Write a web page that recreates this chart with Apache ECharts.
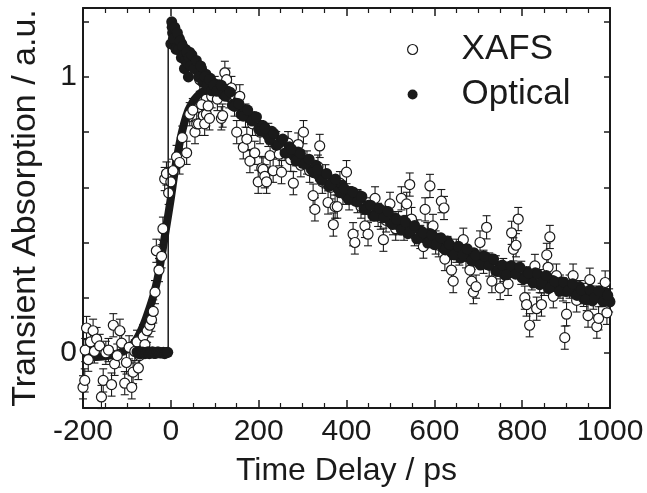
<!DOCTYPE html>
<html>
<head>
<meta charset="utf-8">
<script src="https://cdn.jsdelivr.net/npm/echarts@6/dist/echarts.min.js"></script>
<style>
html,body{margin:0;padding:0;background:#fff;}
#chart{width:647px;height:493px;}
</style>
</head>
<body>
<div id="chart"></div>
<script>
// ---- data ----
const xTickLabels = ['-200','0','200','400','600','800','1000'];
const yTickLabels = ['0','1'];

// XAFS (open circles with error bars)
const xafsT = [-200,-196,-195,-192,-188,-183,-177,-174,-169,-162,-158,-154,-148,-142,-135,-131,-128,-122,-116,-112,-105,-101,-95,-89,-86,-82,-77,-74,-71,-63,-59,-54,-48,-44,-40,-36,-33,-27,-21,-18,-14,-10,-5,0,5,13,20,26,36,43,50,55,59,63,66,70,74,77,81,85,88,93,100,106,115,118,123,127,133,138,145,150,157,165,170,173,180,186,191,199,203,207,210,214,218,222,226,233,240,247,252,260,267,273,279,285,290,296,302,310,316,324,328,335,339,345,352,358,364,370,374,379,385,392,400,406,415,419,425,433,442,449,455,465,472,478,484,490,499,506,512,518,525,531,537,544,548,555,562,568,575,579,584,590,597,603,610,616,622,624,630,639,643,650,657,666,672,681,685,689,695,704,712,719,725,731,740,750,757,768,776,780,786,791,798,806,810,817,822,829,833,840,844,850,856,859,863,871,878,886,893,897,901,908,916,924,932,940,947,950,954,962,970,974,981,989,993,998];
const xafsV = [-0.125,-0.10,0.01,0.09,-0.025,0.04,0.08,0.005,0.05,0.025,-0.16,-0.10,0.00,0.01,-0.115,0.10,-0.04,-0.01,0.08,0.035,-0.11,-0.035,0.02,-0.125,-0.07,0.005,0.04,-0.055,-0.01,0.06,0.03,0.08,0.10,0.12,0.15,0.22,0.37,0.30,0.35,0.45,0.63,0.65,0.58,0.62,0.66,0.71,0.69,0.78,0.725,0.865,0.88,0.80,0.83,0.83,0.99,0.90,0.86,0.83,0.865,0.895,0.85,0.93,0.96,0.92,0.85,0.86,1.015,0.99,0.93,0.96,0.90,0.80,0.93,0.745,0.86,0.775,0.695,0.83,0.725,0.62,0.80,0.67,0.665,0.64,0.62,0.79,0.715,0.66,0.76,0.72,0.655,0.74,0.76,0.70,0.615,0.72,0.755,0.68,0.80,0.69,0.66,0.57,0.52,0.675,0.75,0.62,0.64,0.545,0.60,0.465,0.53,0.53,0.615,0.58,0.655,0.56,0.43,0.40,0.55,0.53,0.46,0.43,0.52,0.56,0.50,0.49,0.41,0.48,0.54,0.47,0.45,0.47,0.56,0.45,0.54,0.61,0.485,0.43,0.44,0.42,0.385,0.52,0.43,0.605,0.46,0.40,0.39,0.55,0.525,0.34,0.38,0.30,0.26,0.37,0.36,0.41,0.35,0.30,0.26,0.22,0.24,0.40,0.33,0.455,0.32,0.26,0.31,0.235,0.30,0.25,0.435,0.375,0.39,0.485,0.29,0.20,0.175,0.10,0.27,0.315,0.16,0.26,0.175,0.25,0.355,0.31,0.42,0.205,0.28,0.24,0.23,0.055,0.14,0.24,0.28,0.19,0.22,0.21,0.195,0.135,0.265,0.20,0.095,0.125,0.21,0.255,0.145,0.19];
const xafsErr = 0.042;

// Optical (filled dots) — main sampling
const optT = [-77,-73,-70,-66,-63,-59,-56,-52,-49,-45,-42,-38,-35,-31,-28,-24,-21,-17,-14,-10,-7,0,2,4,7,10,13,16,19,22,25,28,31,34,37,40,43,46,50,55,60,65,70,75,80,85,90,95,100,110,120,130,140,150,160,170,180,190,200,210,220,230,240,250,260,270,280,290,300,310,320,330,340,350,360,370,380,390,400,410,420,430,440,450,460,470,480,490,500,510,520,530,540,550,560,570,580,590,600,610,620,630,640,650,660,670,680,690,700,710,720,730,740,750,760,770,780,790,800,810,820,830,840,850,860,870,880,890,900,910,920,930,940,950,960,970,980,990,1000];
const optV = [0.003,-0.002,-0.004,0.003,0.002,-0.003,0.000,0.004,-0.003,0.001,0.004,-0.002,-0.002,0.003,0.003,-0.001,0.000,0.002,-0.003,0.001,0.002,1.12,1.20,1.16,1.17,1.13,1.15,1.12,1.14,1.10,1.12,1.09,1.03,1.10,1.08,1.00,1.09,1.06,1.05,1.04,1.045,1.02,1.03,1.00,1.01,0.985,0.995,0.965,0.975,0.972,0.935,0.948,0.898,0.905,0.864,0.882,0.85,0.857,0.812,0.824,0.79,0.803,0.752,0.765,0.724,0.747,0.715,0.728,0.687,0.70,0.665,0.68,0.632,0.645,0.603,0.627,0.595,0.608,0.567,0.585,0.55,0.57,0.522,0.535,0.498,0.522,0.495,0.513,0.472,0.49,0.46,0.48,0.432,0.45,0.413,0.442,0.415,0.433,0.392,0.415,0.38,0.405,0.362,0.375,0.343,0.372,0.345,0.363,0.327,0.35,0.32,0.34,0.297,0.315,0.283,0.312,0.29,0.308,0.272,0.295,0.265,0.29,0.247,0.265,0.233,0.262,0.24,0.258,0.222,0.245,0.215,0.24,0.197,0.215,0.188,0.217,0.195,0.218,0.185];
// Optical — interleaved samples
const optT2 = [3,6,9,12,15,18,21,24,27,30,33,36,39,42,45,48,53,58,63,68,73,78,83,88,93,98,105,115,125,135,145,155,165,175,185,195,205,215,225,235,245,255,265,275,285,295,305,315,325,335,345,355,365,375,385,395,405,415,425,435,445,455,465,475,485,495,505,515,525,535,545,555,565,575,585,595,605,615,625,635,645,655,665,675,685,695,705,715,725,735,745,755,765,775,785,795,805,815,825,835,845,855,865,875,885,895,905,915,925,935,945,955,965,975,985,995];
const optV2 = [1.18,1.14,1.18,1.10,1.16,1.10,1.13,1.07,1.11,1.08,1.06,1.09,1.05,1.07,1.04,1.08,1.03,1.06,1.00,1.04,0.98,1.00,0.97,0.99,0.95,0.97,0.948,0.97,0.93,0.945,0.893,0.903,0.858,0.88,0.84,0.855,0.803,0.815,0.773,0.795,0.757,0.775,0.725,0.738,0.695,0.723,0.685,0.702,0.653,0.665,0.625,0.65,0.612,0.63,0.58,0.595,0.555,0.583,0.547,0.567,0.52,0.535,0.495,0.523,0.49,0.512,0.465,0.483,0.445,0.473,0.44,0.462,0.418,0.435,0.398,0.428,0.395,0.417,0.373,0.393,0.355,0.386,0.355,0.377,0.333,0.353,0.318,0.35,0.317,0.34,0.298,0.318,0.283,0.316,0.285,0.31,0.268,0.288,0.253,0.286,0.255,0.28,0.238,0.258,0.223,0.256,0.225,0.25,0.208,0.228,0.193,0.228,0.20,0.225,0.185,0.208];

// Optical fit (thin line: step then decay)
const optFitT = [-77,-6,-6,100,200,300,400,500,600,700,800,900,1000];
const optFitV = [0,0,1.11,0.975,0.825,0.70,0.58,0.485,0.405,0.34,0.285,0.235,0.195];

// XAFS fit (thick line)
const fitT = [-200,-180,-160,-140,-120,-100,-90,-80,-70,-60,-50,-40,-30,-20,-10,0,10,20,30,40,50,60,70,80,90,100,110,120,140,160,180,200,250,300,350,400,450,500,550,600,650,700,750,800,850,900,950,1000];
const fitV = [-0.015,-0.015,-0.014,-0.01,-0.002,0.012,0.025,0.045,0.073,0.11,0.155,0.205,0.27,0.36,0.46,0.56,0.67,0.76,0.83,0.88,0.91,0.93,0.945,0.95,0.95,0.95,0.945,0.935,0.915,0.89,0.86,0.83,0.76,0.70,0.64,0.58,0.53,0.485,0.445,0.405,0.37,0.34,0.31,0.285,0.26,0.24,0.22,0.20];

const zip = (a, b) => a.map((v, i) => [v, b[i]]);
const FONT = "'Liberation Sans', Arial, Helvetica, sans-serif";
const black = '#1a1a1a';

const chart = echarts.init(document.getElementById('chart'), null, {renderer: 'canvas'});

const xCommon = {
  type: 'value', min: -200, max: 1000, interval: 200,
  splitLine: {show: false},
  axisLine: {show: true, onZero: false, lineStyle: {color: black, width: 2}},
  axisTick: {show: true, inside: true, length: 8, lineStyle: {color: black, width: 1.5}},
  minorTick: {show: true, splitNumber: 4, length: 5, lineStyle: {color: black, width: 1.2}},
  minorSplitLine: {show: false}
};
const yCommon = {
  type: 'value', min: -0.2, max: 1.25, interval: 0.2,
  splitLine: {show: false},
  axisLine: {show: true, onZero: false, lineStyle: {color: black, width: 2}},
  axisTick: {show: true, inside: true, length: 6, lineStyle: {color: black, width: 1.5}}
};

const option = {
  animation: false,
  backgroundColor: '#fff',
  grid: {left: 83, right: 37, top: 8, bottom: 85, containLabel: false},
  legend: {
    orient: 'vertical', left: 402, top: 27, itemGap: 10,
    itemWidth: 10, itemHeight: 10, selectedMode: false,
    textStyle: {fontFamily: FONT, fontSize: 35, color: black, padding: [0, 0, 0, 39]},
    data: [
      {name: 'XAFS', icon: 'circle', itemStyle: {color: '#fff', borderColor: black, borderWidth: 1.2, opacity: 1}},
      {name: 'Optical', icon: 'circle', itemStyle: {color: black, borderWidth: 0, opacity: 1}}
    ]
  },
  xAxis: [
    Object.assign({}, xCommon, {
      position: 'bottom',
      axisLabel: {
        show: true, margin: 9, fontFamily: FONT, fontSize: 30, color: black,
        formatter: v => { const s = String(Math.round(v)); return xTickLabels.indexOf(s) >= 0 ? s : ''; }
      },
      name: 'Time Delay / ps', nameLocation: 'middle', nameGap: 47,
      nameTextStyle: {fontFamily: FONT, fontSize: 32, color: black}
    }),
    Object.assign({}, xCommon, {position: 'top', axisLabel: {show: false}})
  ],
  yAxis: [
    Object.assign({}, yCommon, {
      position: 'left',
      axisLabel: {
        show: true, margin: 6, fontFamily: FONT, fontSize: 30, color: black,
        formatter: v => { const s = String(Math.round(v * 1000) / 1000); return yTickLabels.indexOf(s) >= 0 ? s : ''; }
      },
      name: 'Transient Absorption / a.u.', nameLocation: 'middle', nameGap: 40,
      nameTextStyle: {fontFamily: FONT, fontSize: 34, color: black}
    }),
    Object.assign({}, yCommon, {position: 'right', axisLabel: {show: false}})
  ],
  series: [
    {
      name: 'XAFS fit', type: 'line', xAxisIndex: 0, yAxisIndex: 0,
      data: zip(fitT, fitV), smooth: 0.3, showSymbol: false, silent: true,
      lineStyle: {color: black, width: 8}, z: 2
    },
    {
      name: 'XAFS error', type: 'custom', xAxisIndex: 0, yAxisIndex: 0,
      data: zip(xafsT, xafsV), encode: {x: 0, y: 1}, silent: true, z: 3,
      renderItem: function (params, api) {
        const x = api.value(0), y = api.value(1);
        const top = api.coord([x, y + xafsErr]);
        const bot = api.coord([x, y - xafsErr]);
        const hw = 4;
        const st = {stroke: black, lineWidth: 1.1};
        return {
          type: 'group',
          children: [
            {type: 'line', shape: {x1: top[0], y1: top[1], x2: bot[0], y2: bot[1]}, style: st},
            {type: 'line', shape: {x1: top[0] - hw, y1: top[1], x2: top[0] + hw, y2: top[1]}, style: st},
            {type: 'line', shape: {x1: bot[0] - hw, y1: bot[1], x2: bot[0] + hw, y2: bot[1]}, style: st}
          ]
        };
      }
    },
    {
      name: 'XAFS', type: 'scatter', xAxisIndex: 0, yAxisIndex: 0,
      data: zip(xafsT, xafsV), symbol: 'circle', symbolSize: 10, silent: true, z: 4,
      itemStyle: {color: '#fff', borderColor: black, borderWidth: 1.2, opacity: 1}
    },
    {
      name: 'Optical fit', type: 'line', xAxisIndex: 0, yAxisIndex: 0,
      data: zip(optFitT, optFitV), showSymbol: false, silent: true, z: 5,
      lineStyle: {color: black, width: 1.5}
    },
    {
      name: 'Optical', type: 'scatter', xAxisIndex: 0, yAxisIndex: 0,
      data: zip(optT, optV).concat(zip(optT2, optV2)), symbol: 'circle', symbolSize: 11, silent: true, z: 6,
      itemStyle: {color: black, opacity: 1}
    }
  ]
};
chart.setOption(option);
</script>
</body>
</html>
